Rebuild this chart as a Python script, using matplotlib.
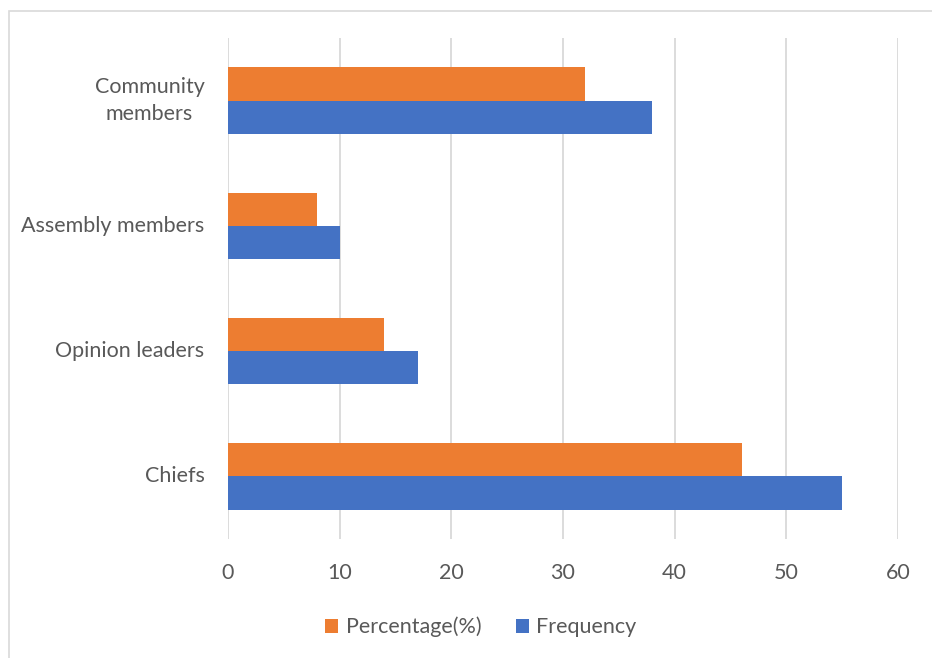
import numpy as np
import matplotlib.pyplot as plt
from matplotlib.patches import Rectangle

plt.rcParams['font.family'] = ['Lato', 'DejaVu Sans']

categories = ['Chiefs', 'Opinion leaders', 'Assembly members', 'Community\nmembers']
percentage = [46, 14, 8, 32]
frequency = [55, 17, 10, 38]
xticks = [0, 10, 20, 30, 40, 50, 60]

orange = '#ED7D31'
blue = '#4472C4'
text_color = '#595959'

fig = plt.figure(figsize=(9.32, 6.58), dpi=100)
# outer chart border (only top and left show, the rest runs off the image)
top = 1 - 11.5/658
fig.patches.append(Rectangle((8.5/932, -0.1), 1.2, top + 0.1, transform=fig.transFigure,
                             fill=False, edgecolor='#D9D9D9', linewidth=1.2))

ax = fig.add_axes([228/932, 1 - 539/658, 670/932, 501/658])

y = np.arange(len(categories))
h = 0.265
ax.barh(y - h/2, frequency, height=h, color=blue, label='Frequency', zorder=3)
ax.barh(y + h/2, percentage, height=h, color=orange, label='Percentage(%)', zorder=3)

ax.set_xlim(0, 60)
ax.set_ylim(-0.5, len(categories) - 0.5)
ax.set_xticks(xticks)
ax.set_yticks(y)
ax.set_yticklabels(categories, ha='right', va='center', multialignment='center', linespacing=1.45)
ax.tick_params(axis='y', length=0, pad=17, labelsize=15.5, labelcolor=text_color)
ax.tick_params(axis='x', length=0, pad=17, labelsize=15.5, labelcolor=text_color)
ax.grid(axis='x', color='#D9D9D9', linewidth=1.3, zorder=0)
for s in ax.spines.values():
    s.set_visible(False)

handles, labels = ax.get_legend_handles_labels()
fig.legend(handles[::-1], labels[::-1], loc='center', bbox_to_anchor=(481/932, 1 - 627/658),
           ncol=2, frameon=False, fontsize=15.5, labelcolor=text_color,
           handlelength=0.6, handleheight=0.6, handletextpad=0.35, columnspacing=1.6)

fig.savefig('out.png', dpi=100)
